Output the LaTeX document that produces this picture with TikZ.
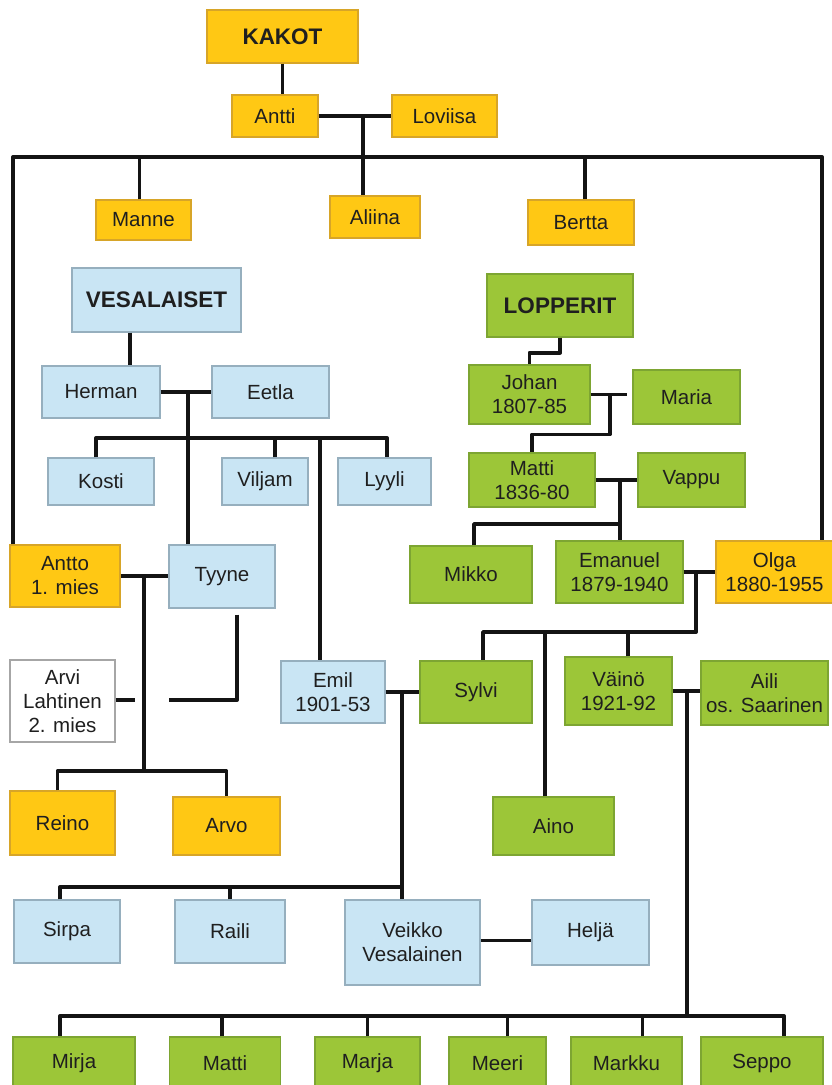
\documentclass[tikz,border=0pt]{standalone}
\usepackage{fontspec}
\setmainfont{Liberation Sans}
\begin{document}
\begin{tikzpicture}[x=1pt,y=-1pt,
  box/.style={rectangle,draw,line width=1.2pt,inner sep=0pt,align=center,
    font=\fontsize{20.5}{24}\selectfont,text=black!88},
  ybox/.style={box,fill=yel,draw=yelB},
  gbox/.style={box,fill=grn,draw=grnB},
  bbox/.style={box,fill=blu,draw=bluB},
  wbox/.style={box,fill=white,draw=black!35},
  title/.style={font=\fontsize{22.5}{26}\selectfont\bfseries},
  link/.style={line width=3.9pt,line join=round,line cap=butt,draw=black!92}]
\definecolor{yel}{RGB}{255,200,20}
\definecolor{yelB}{RGB}{215,165,40}
\definecolor{grn}{RGB}{156,198,56}
\definecolor{grnB}{RGB}{125,165,50}
\definecolor{blu}{RGB}{201,229,244}
\definecolor{bluB}{RGB}{150,175,190}
\useasboundingbox (0,0) rectangle (831,1085);
\fill[white] (0,0) rectangle (831,1085);

% ---------- nodes ----------
\node[ybox,title,minimum width=151,minimum height=53] (KAKOT) at (282.5,36.5) {KAKOT};
\node[ybox,minimum width=86,minimum height=42] (Antti) at (275,116) {Antti};
\node[ybox,minimum width=105,minimum height=42] (Loviisa) at (444.5,116) {Loviisa};
\node[ybox,minimum width=95,minimum height=40] (Manne) at (143.5,220) {Manne};
\node[ybox,minimum width=90,minimum height=42] (Aliina) at (375,217) {Aliina};
\node[ybox,minimum width=106,minimum height=45] (Bertta) at (581,222.5) {Bertta};

\node[bbox,title,minimum width=169,minimum height=64] (VES) at (156.5,300) {VESALAISET};
\node[bbox,minimum width=118,minimum height=52] (Herman) at (101,392) {Herman};
\node[bbox,minimum width=117,minimum height=52] (Eetla) at (270.5,392) {Eetla};
\node[bbox,minimum width=106,minimum height=47] (Kosti) at (101,481.5) {Kosti};
\node[bbox,minimum width=86,minimum height=47] (Viljam) at (265,481.5) {Viljam};
\node[bbox,minimum width=93,minimum height=47] (Lyyli) at (384.5,481.5) {Lyyli};
\node[ybox,minimum width=110,minimum height=62] (Antto) at (65,576) {Antto\\1. mies};
\node[bbox,minimum width=106,minimum height=63] (Tyyne) at (222,576.5) {Tyyne};
\node[wbox,minimum width=105,minimum height=82] (Arvi) at (62.5,701) {Arvi\\Lahtinen\\2. mies};
\node[ybox,minimum width=105,minimum height=64] (Reino) at (62.5,823) {Reino};
\node[ybox,minimum width=107,minimum height=58] (Arvo) at (226.5,826) {Arvo};
\node[bbox,minimum width=104,minimum height=62] (Emil) at (333,692) {Emil\\1901-53};
\node[gbox,minimum width=112,minimum height=62] (Sylvi) at (476,692) {Sylvi};
\node[bbox,minimum width=106,minimum height=63] (Sirpa) at (67,931.5) {Sirpa};
\node[bbox,minimum width=110,minimum height=63] (Raili) at (230,931.5) {Raili};
\node[bbox,minimum width=135,minimum height=85] (Veikko) at (412.5,942.5) {Veikko\\Vesalainen};
\node[bbox,minimum width=117,minimum height=65] (Helja) at (590.5,932.5) {Heljä};

\node[gbox,title,minimum width=146,minimum height=63] (LOP) at (560,305.5) {LOPPERIT};
\node[gbox,minimum width=121,minimum height=59] (Johan) at (529.5,394.5) {Johan\\1807-85};
\node[gbox,minimum width=107,minimum height=54] (Maria) at (686.5,397) {Maria};
\node[gbox,minimum width=126,minimum height=54] (MattiA) at (532,480) {Matti\\1836-80};
\node[gbox,minimum width=107,minimum height=54] (Vappu) at (691.5,480) {Vappu};
\node[gbox,minimum width=122,minimum height=57] (Mikko) at (471,574.5) {Mikko};
\node[gbox,minimum width=127,minimum height=62] (Emanuel) at (619.5,572) {Emanuel\\1879-1940};
\node[ybox,minimum width=117,minimum height=62] (Olga) at (774.5,572) {Olga\\1880-1955};
\node[gbox,minimum width=107,minimum height=68] (Vaino) at (618.5,691) {Väinö\\1921-92};
\node[gbox,minimum width=127,minimum height=64] (Aili) at (764.5,693) {Aili\\os. Saarinen};
\node[gbox,minimum width=121,minimum height=58] (Aino) at (553.5,826) {Aino};

\node[gbox,minimum width=122,minimum height=53] (Mirja) at (74,1063.5) {Mirja};
\node[gbox,minimum width=111,minimum height=53] (MattiB) at (225,1063.5) {Matti};
\node[gbox,minimum width=105,minimum height=53] (Marja) at (367.5,1063.5) {Marja};
\node[gbox,minimum width=97,minimum height=53] (Meeri) at (497.5,1063.5) {Meeri};
\node[gbox,minimum width=111,minimum height=53] (Markku) at (626.5,1063.5) {Markku};
\node[gbox,minimum width=122,minimum height=53] (Seppo) at (762,1063.5) {Seppo};

% ---------- coordinates ----------
\coordinate (m1) at (363,116);
\coordinate (bar1L) at (13,157);
\coordinate (bar1R) at (822,157);
\coordinate (m2) at (188,392);
\coordinate (b2L) at (96,438);
\coordinate (b2R) at (387,438);
\coordinate (e1) at (320,438);
\coordinate (m3) at (144,576);
\coordinate (b3) at (144,771);
\coordinate (a1) at (169,700);
\coordinate (a2) at (135,700);
\coordinate (m4) at (402,692);
\coordinate (b4) at (402,887);
\coordinate (m5) at (610,394.5);
\coordinate (m6) at (620,480);
\coordinate (b6) at (620,524);
\coordinate (m7) at (696,572);
\coordinate (b7) at (696,632);
\coordinate (m8) at (687,691);
\coordinate (b8) at (687,1016);

% ---------- connectors ----------
\draw[link] (KAKOT.south) -- (KAKOT.south |- Antti.north);
\draw[link] (Antti.east) -- (Loviisa.west);
\draw[link] (m1) -- (m1 |- Aliina.north);
\draw[link] (bar1L |- Antto.north) -- (bar1L) -- (bar1R) -- (bar1R |- Olga.north);
\draw[link] ([xshift=-4pt]Manne.north) -- ([xshift=-4pt]Manne.north |- bar1L);
\draw[link] ([xshift=4pt]Bertta.north) -- ([xshift=4pt]Bertta.north |- bar1L);

\draw[link] ([xshift=-26.5pt]VES.south) -- ([xshift=-26.5pt]VES.south |- Herman.north);
\draw[link] (Herman.east) -- (Eetla.west);
\draw[link] (m2) -- (m2 |- Tyyne.north);
\draw[link] (b2L |- Kosti.north) -- (b2L) -- (b2R) -- (b2R |- Lyyli.north);
\draw[link] ([xshift=10pt]Viljam.north) -- ([xshift=10pt]Viljam.north |- b2L);
\draw[link] (e1) -- (e1 |- Emil.north);

\draw[link] (Antto.east) -- (Antto.east -| Tyyne.west);
\draw[link] (m3) -- (b3);
\draw[link] ([xshift=-5pt]Reino.north) |- (b3) -| (Arvo.north);
\draw[link] (Arvi.east |- a2) -- (a2);
\draw[link] ([xshift=15pt,yshift=-6pt]Tyyne.south) |- (a1);

\draw[link] (Emil.east) -- (Sylvi.west);
\draw[link] (m4) -- (m4 |- Veikko.north);
\draw[link] ([xshift=-7pt]Sirpa.north) |- (b4);
\draw[link] (Raili.north) -- (Raili.north |- b4);
\draw[link] ([yshift=2pt]Veikko.east) -- ([yshift=2pt]Veikko.east -| Helja.west);

\draw[link] (LOP.south) -- ++(0,15) -| (Johan.north);
\draw[link] (Johan.east) -- ([xshift=-5pt]Johan.east -| Maria.west);
\draw[link] (m5) -- ++(0,40) -| (MattiA.north);
\draw[link] (MattiA.east) -- (Vappu.west);
\draw[link] (m6) -- (m6 |- Emanuel.north);
\draw[link] ([xshift=3pt]Mikko.north) |- (b6);

\draw[link] (Emanuel.east) -- (Olga.west);
\draw[link] (m7) -- (b7) -| ([xshift=7pt]Sylvi.north);
\draw[link] ([xshift=-8.5pt]Aino.north) -- ([xshift=-8.5pt]Aino.north |- b7);
\draw[link] ([xshift=9.5pt]Vaino.north) -- ([xshift=9.5pt]Vaino.north |- b7);

\draw[link] (Vaino.east) -- (Vaino.east -| Aili.west);
\draw[link] (m8) -- (b8);
\draw[link] ([xshift=-14pt]Mirja.north) |- (b8) -| ([xshift=22pt]Seppo.north);
\draw[link] ([xshift=-3pt]MattiB.north) -- ([xshift=-3pt]MattiB.north |- b8);
\draw[link] (Marja.north) -- (Marja.north |- b8);
\draw[link] ([xshift=10pt]Meeri.north) -- ([xshift=10pt]Meeri.north |- b8);
\draw[link] ([xshift=16pt]Markku.north) -- ([xshift=16pt]Markku.north |- b8);
\end{tikzpicture}
\end{document}
